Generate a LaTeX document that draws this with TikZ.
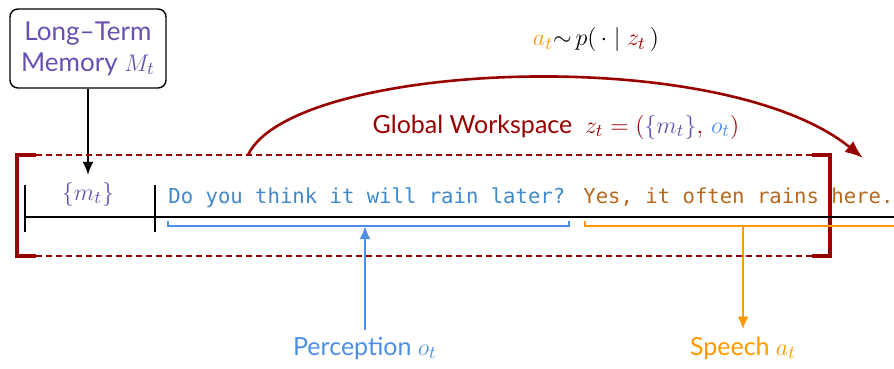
\documentclass[tikz,border=0pt]{standalone}
\usepackage{fontspec}
\setmainfont{Lato}
\newfontfamily\codefont{DejaVu Sans Mono}
\usetikzlibrary{arrows.meta,positioning}
\definecolor{gwred}{HTML}{990000}
\definecolor{mempurple}{HTML}{6750B0}
\definecolor{percblue}{HTML}{4E8FE6}
\definecolor{qblue}{HTML}{3F88CC}
\definecolor{spchorange}{HTML}{FF9900}
\definecolor{abrown}{HTML}{B8681C}
\begin{document}
\begin{tikzpicture}[x=0.5pt,y=-0.5pt,font=\fontsize{12.5}{15}\selectfont,
  >={Latex[length=6.5pt,width=5.5pt]},
  code/.style={anchor=base west,inner sep=0pt,font=\codefont\fontsize{10.3}{12}\selectfont}]
  \useasboundingbox (0,0) rectangle (894,369);
  % memory
  \node[draw,rounded corners=4pt,line width=0.7pt,minimum width=78pt,minimum height=39.5pt,
    align=center,text=mempurple,inner sep=1pt,font=\fontsize{13}{15.5}\selectfont] (mem) at (88,48.5)
    {Long--Term\\Memory $M_t$};
  \node[text=mempurple] (mt) at (88,194) {$\{m_t\}$};
  \draw[->,line width=1.2pt] (mem) -- (mt);
  % global workspace
  \draw[gwred,dashed,dash pattern=on 3pt off 2pt,line width=0.6pt] (36,155) -- (812,155);
  \draw[gwred,dashed,dash pattern=on 3pt off 2pt,line width=0.6pt] (36,256) -- (812,256);
  \draw[gwred,line width=2pt] (36,155) -| (17,256) -- (36,256);
  \draw[gwred,line width=2pt] (812,155) -| (830,256) -- (812,256);
  \node[text=gwred] (gw) at (556,127)
    {Global Workspace\ \ $z_t = (\textcolor{mempurple}{\{m_t\}},\,\textcolor{percblue}{o_t})$};
  % timeline
  \draw[line width=1.4pt] (25,217) -- (894,217);
  \draw[line width=1.4pt] (25,185) -- (25,232);
  \draw[line width=1.4pt] (155,185) -- (155,232);
  \node[code,text=qblue] (qtext) at (168,203) {Do you think it will rain later?};
  \node[code,text=abrown] (atext) at (583,203) {Yes, it often rains here.};
  % perception
  \coordinate (pbr) at (365,226);
  \draw[percblue,line width=1.2pt] (168,221) -- (168,226) -- (569,226) -- (569,221);
  \node[text=percblue] (perc) at (365,348) {Perception $o_t$};
  \draw[->,percblue,line width=1.2pt] (perc.north) -- (pbr);
  % speech
  \coordinate (sbr) at (743,226);
  \draw[spchorange,line width=1.2pt] (585,221) -- (585,226) -- (894,226);
  \node[text=spchorange] (speech) at (743,348) {Speech $a_t$};
  \draw[->,spchorange,line width=1.2pt] (sbr) -- (speech.north);
  % action
  \coordinate (cstart) at (248,155);
  \coordinate (cend) at (863,158);
  \draw[->,>={Latex[length=9pt,width=7pt]},gwred,line width=1.3pt]
    (cstart) .. controls (292,62) and (720,42) .. (cend);
  \node (policy) at (596,40)
    {$\textcolor{spchorange}{a_t}{\sim}\,p(\,\cdot\mid\textcolor{gwred}{z_t}\,)$};
\end{tikzpicture}
\end{document}
